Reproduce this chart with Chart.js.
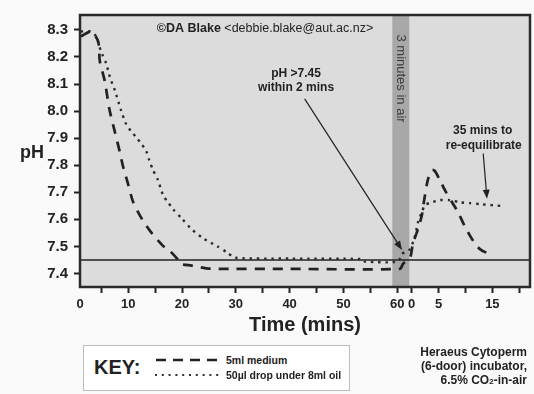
<!DOCTYPE html>
<html>
<head>
<meta charset="utf-8">
<script src="https://cdn.jsdelivr.net/npm/chart.js@4/dist/chart.umd.min.js"></script>
<style>
  body { margin:0; background:#fafafa; font-family:'Liberation Sans', Arial, sans-serif; color:#222; }
  #wrap { position:relative; width:534px; height:394px; overflow:hidden; }
  #chart { position:absolute; left:0; top:0; }
  .txt { position:absolute; font-weight:bold; white-space:nowrap; }
  #ph { left:20px; top:142px; font-size:18px; line-height:20px; }
  #key { position:absolute; left:83px; top:345px; width:267px; height:46px; border:1px solid #bdbdbd; background:#fff; box-sizing:border-box; }
  #key .title { position:absolute; left:10px; top:10px; font-size:20px; line-height:22px; font-weight:bold; }
  #key svg { position:absolute; left:70px; top:6px; }
  #key .item { position:absolute; left:142px; font-size:10.5px; line-height:12px; font-weight:bold; }
  #note { right:7px; top:345px; font-size:12px; line-height:14px; text-align:right; }
</style>
</head>
<body>
<div id="wrap">
  <canvas id="chart" width="534" height="394"></canvas>
  <div class="txt" id="ph">pH</div>
  <div id="key">
    <div class="title">KEY:</div>
    <svg width="70" height="30">
      <line x1="2" y1="8" x2="64" y2="8" stroke="#222" stroke-width="2.5" stroke-dasharray="10 7"></line>
      <line x1="1" y1="23" x2="66" y2="23" stroke="#333" stroke-width="2" stroke-dasharray="2 4.8"></line>
    </svg>
    <div class="item" style="top:8px">5ml medium</div>
    <div class="item" style="top:23px">50µl drop under 8ml oil</div>
  </div>
  <div class="txt" id="note">Heraeus Cytoperm<br>(6-door) incubator,<br>6.5% CO<span style="font-size:8px">2</span>-in-air</div>
</div>
<script>
// ==== Data ====
// time axis: 0-60 min in incubator, then 3 min in air, then minutes after return (offset 62.7)
const mediumTime = [1.2, 3.1, 4.4, 4.7, 5.6, 6.5, 7.5, 8.4, 9.0, 9.9, 10.9, 12.6, 14.4, 16.5, 17.4, 19.1, 19.6, 21.8, 25.2, 40, 60.5, 61.1, 62.4, 62.9, 63.9, 64.6, 64.9, 65.7, 66.5, 67.0, 67.9, 68.9, 70.2, 71.3, 72.6, 74.4, 75.4, 76.7, 77.8];
const mediumPH = [8.276, 8.294, 8.257, 8.185, 8.113, 8.006, 7.923, 7.851, 7.797, 7.735, 7.664, 7.599, 7.548, 7.501, 7.490, 7.454, 7.436, 7.429, 7.418, 7.417, 7.417, 7.436, 7.458, 7.508, 7.566, 7.616, 7.656, 7.746, 7.782, 7.779, 7.746, 7.707, 7.663, 7.627, 7.573, 7.512, 7.490, 7.476, 7.472];
const dropTime = [1.2, 3.1, 4.0, 4.9, 5.9, 6.6, 7.5, 8.6, 9.6, 10.5, 11.4, 12.4, 13.3, 13.9, 14.6, 15.5, 16.5, 17.4, 18.3, 20.0, 21.8, 23.9, 26.5, 28.5, 29.8, 40, 53.6, 54.0, 60.1, 60.9, 61.8, 62.4, 63.3, 63.9, 64.6, 65.2, 66.5, 67.9, 69.8, 71.7, 73.5, 75.4, 79.7];
const dropPH = [8.294, 8.294, 8.276, 8.222, 8.175, 8.124, 8.077, 8.006, 7.952, 7.926, 7.905, 7.880, 7.854, 7.818, 7.782, 7.746, 7.688, 7.663, 7.638, 7.602, 7.563, 7.530, 7.501, 7.476, 7.458, 7.455, 7.453, 7.444, 7.444, 7.472, 7.483, 7.490, 7.537, 7.591, 7.627, 7.653, 7.663, 7.671, 7.671, 7.663, 7.660, 7.656, 7.649];

const xTickValues = [1.02, 5, 10, 15, 20, 25, 30, 35, 40, 45, 50, 55, 60, 62.7, 67.7, 72.7, 77.7, 82.7];
const xTickLabels = ['0', '', '10', '', '20', '', '30', '', '40', '', '50', '', '60', '0', '5', '', '15', ''];
const yTickValues = [7.4, 7.5, 7.6, 7.7, 7.8, 7.9, 8.0, 8.1, 8.2, 8.3];

const targetPH = 7.45;
const airStart = 59.1, airEnd = 62.25;

const FONT = "'Liberation Sans', Arial, sans-serif";
const INK = '#222';

// ==== Extra drawing: background, air band, 7.45 line, frame, notes ====
function arrow(ctx, x0, y0, x1, y1){
  const a = Math.atan2(y1 - y0, x1 - x0);
  ctx.beginPath();
  ctx.moveTo(x0, y0);
  ctx.lineTo(x1 - 6*Math.cos(a), y1 - 6*Math.sin(a));
  ctx.stroke();
  ctx.beginPath();
  ctx.moveTo(x1, y1);
  ctx.lineTo(x1 - 9*Math.cos(a) + 3.5*Math.sin(a), y1 - 9*Math.sin(a) - 3.5*Math.cos(a));
  ctx.lineTo(x1 - 9*Math.cos(a) - 3.5*Math.sin(a), y1 - 9*Math.sin(a) + 3.5*Math.cos(a));
  ctx.closePath();
  ctx.fill();
}

const extras = {
  id: 'extras',
  beforeDraw(chart){
    const {ctx, chartArea: a} = chart;
    ctx.save();
    ctx.fillStyle = '#dcdcdc';
    ctx.fillRect(a.left, a.top, a.width, a.height);
    ctx.restore();
  },
  beforeDatasetsDraw(chart){
    const {ctx, chartArea: a, scales: {x, y}} = chart;
    ctx.save();
    const b0 = x.getPixelForValue(airStart), b1 = x.getPixelForValue(airEnd);
    ctx.fillStyle = '#a8a8a8';
    ctx.fillRect(b0, a.top, b1 - b0, a.height);
    // 7.45 line
    const yl = y.getPixelForValue(targetPH);
    ctx.strokeStyle = INK;
    ctx.lineWidth = 1.5;
    ctx.beginPath();
    ctx.moveTo(a.left, yl);
    ctx.lineTo(a.right, yl);
    ctx.stroke();
    // band label
    ctx.translate((b0 + b1)/2, y.getPixelForValue(8.283));
    ctx.rotate(Math.PI/2);
    ctx.font = '13px ' + FONT;
    ctx.fillStyle = '#3a3a3a';
    ctx.textAlign = 'left';
    ctx.textBaseline = 'middle';
    ctx.fillText('3 minutes in air', 0, 0);
    ctx.restore();
  },
  afterDatasetsDraw(chart){
    const {ctx, chartArea: a, scales: {x, y}} = chart;
    ctx.save();
    ctx.strokeStyle = '#2a2a2a';
    ctx.lineWidth = 2.5;
    ctx.strokeRect(a.left, a.top, a.width, a.height);

    ctx.strokeStyle = INK;
    ctx.fillStyle = INK;
    ctx.lineWidth = 1.2;
    arrow(ctx, x.getPixelForValue(42.8), y.getPixelForValue(8.045), x.getPixelForValue(60.9), y.getPixelForValue(7.487));
    arrow(ctx, x.getPixelForValue(76.0), y.getPixelForValue(7.843), x.getPixelForValue(76.7), y.getPixelForValue(7.676));

    ctx.textAlign = 'center';
    ctx.textBaseline = 'middle';
    ctx.font = 'bold 12px ' + FONT;
    ctx.fillText('pH >7.45', x.getPixelForValue(41.2), y.getPixelForValue(8.138));
    ctx.fillText('within 2 mins', x.getPixelForValue(41.2), y.getPixelForValue(8.088));
    ctx.fillText('35 mins to', x.getPixelForValue(75.9), y.getPixelForValue(7.926));
    ctx.fillText('re-equilibrate', x.getPixelForValue(76.1), y.getPixelForValue(7.872));

    // copyright line
    ctx.textAlign = 'left';
    const cx = x.getPixelForValue(15.3), cy = y.getPixelForValue(8.304);
    ctx.font = 'bold 12.5px ' + FONT;
    const first = '©DA Blake';
    ctx.fillText(first, cx, cy);
    const w = ctx.measureText(first + ' ').width;
    ctx.font = '12.5px ' + FONT;
    ctx.fillText('<debbie.blake@aut.ac.nz>', cx + w, cy);
    ctx.restore();
  }
};

// ==== Chart ====
const ctx = document.getElementById('chart').getContext('2d');
new Chart(ctx, {
  type: 'line',
  data: {
    datasets: [
      {
        label: '5ml medium',
        data: mediumTime.map((t, i) => ({x: t, y: mediumPH[i]})),
        borderColor: INK,
        borderWidth: 2.7,
        borderDash: [10, 8],
        pointRadius: 0,
        tension: 0.25,
        fill: false
      },
      {
        label: '50µl drop under 8ml oil',
        data: dropTime.map((t, i) => ({x: t, y: dropPH[i]})),
        borderColor: '#2a2a2a',
        borderWidth: 2.4,
        borderDash: [2.4, 4.8],
        pointRadius: 0,
        tension: 0.25,
        fill: false
      }
    ]
  },
  options: {
    responsive: false,
    animation: false,
    layout: { padding: { left: 0, top: 8, right: 4, bottom: 57 } },
    plugins: { legend: { display: false }, tooltip: { enabled: false } },
    scales: {
      x: {
        type: 'linear',
        min: 1.02,
        max: 84.7,
        afterFit: s => { s.height = 50; },
        afterBuildTicks: s => { s.ticks = xTickValues.map(v => ({value: v})); },
        ticks: {
          autoSkip: false,
          maxRotation: 0,
          padding: 4,
          color: INK,
          font: { family: FONT, size: 13, weight: 'bold' },
          callback: (v, i) => xTickLabels[i]
        },
        grid: {
          drawOnChartArea: false,
          tickLength: 6,
          tickWidth: 2,
          tickColor: c => c.index === 0 ? 'rgba(0,0,0,0)' : INK
        },
        border: { display: false },
        title: {
          display: true,
          text: 'Time (mins)',
          color: INK,
          padding: 0,
          font: { family: FONT, size: 20, weight: 'bold' }
        }
      },
      y: {
        min: 7.35,
        max: 8.355,
        afterFit: s => { s.width = 80; },
        afterBuildTicks: s => { s.ticks = yTickValues.map(v => ({value: v})); },
        ticks: {
          padding: 6,
          color: INK,
          font: { family: FONT, size: 15, weight: 'bold' },
          callback: v => v.toFixed(1)
        },
        grid: {
          drawOnChartArea: false,
          tickLength: 6,
          tickWidth: 2,
          tickColor: INK
        },
        border: { display: false }
      }
    }
  },
  plugins: [extras]
});
</script>
</body>
</html>
